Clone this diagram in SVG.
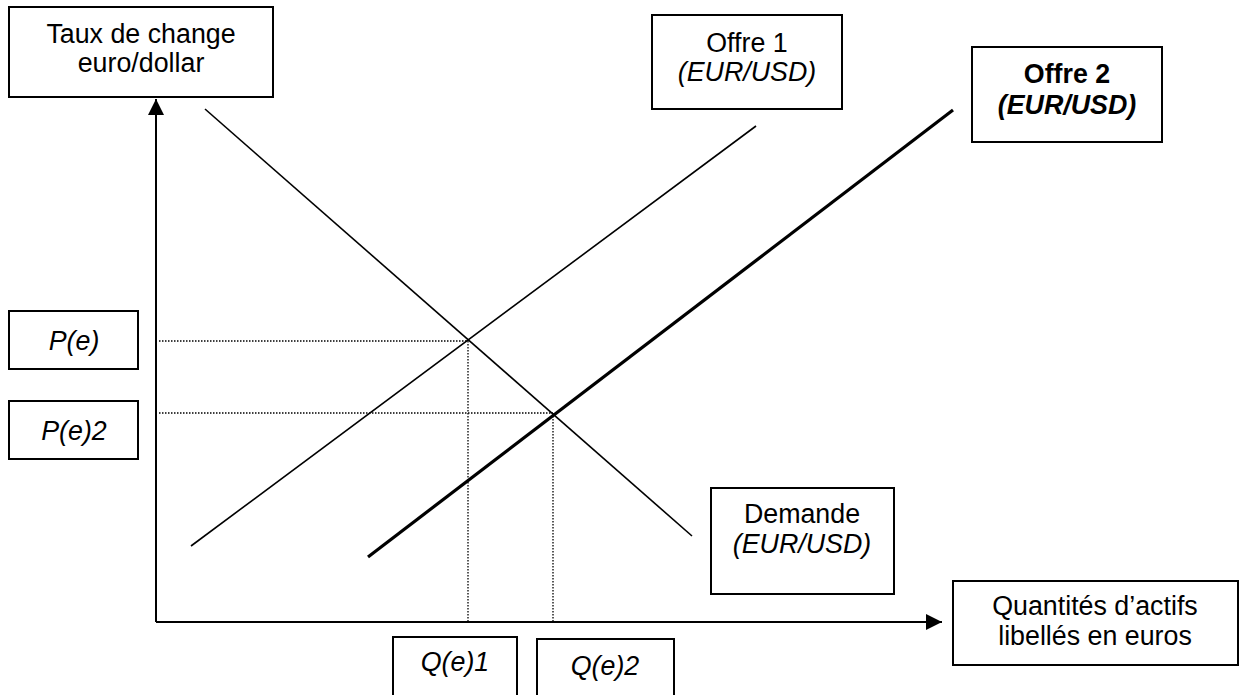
<svg xmlns="http://www.w3.org/2000/svg" width="1239" height="695" viewBox="0 0 1239 695">
<style>
.box{fill:#fff;stroke:#000;stroke-width:2}
text{font-family:"Liberation Sans",Arial,sans-serif;font-size:26.8px;fill:#000;text-anchor:middle}
.it{font-style:italic}
.b{font-weight:bold}
.ln{stroke:#000;stroke-width:1.6;fill:none}
.thick{stroke:#000;stroke-width:3.2;fill:none}
.dot{stroke:#000;stroke-width:1.3;stroke-dasharray:1.5 1.5;fill:none}
.axis{stroke:#000;stroke-width:2;fill:none}
</style>
<defs>
<marker id="ah" viewBox="0 0 16 16" refX="16" refY="8" markerWidth="16" markerHeight="16" markerUnits="userSpaceOnUse" orient="auto">
<path d="M0,0 L16,8 L0,16 Z" fill="#000"/>
</marker>
</defs>
<rect width="1239" height="695" fill="#fff"/>
<g id="connectors">
<line class="dot" x1="159" y1="341" x2="468" y2="341"/>
<line class="dot" x1="159" y1="413" x2="553" y2="413"/>
<line class="dot" x1="468" y1="341" x2="468" y2="622"/>
<line class="dot" x1="553" y1="413" x2="553" y2="622"/>
<line class="axis" x1="156" y1="622" x2="156" y2="99" marker-end="url(#ah)"/>
<line class="axis" x1="156" y1="622" x2="942" y2="622" marker-end="url(#ah)"/>
<line class="ln" x1="205" y1="109" x2="692" y2="536"/>
<line class="ln" x1="191" y1="546" x2="756" y2="126"/>
<line class="thick" x1="368" y1="557" x2="953" y2="110"/>
</g>
<g id="n-taux">
<rect class="box" x="9" y="7" width="264" height="90"/>
<text x="141" y="43">Taux de change</text>
<text x="141" y="72">euro/dollar</text>
</g>
<g id="n-offre1">
<rect class="box" x="652" y="15" width="190" height="94"/>
<text x="747" y="52">Offre 1</text>
<text class="it" x="747" y="81">(EUR/USD)</text>
</g>
<g id="n-offre2">
<rect class="box" x="972" y="47" width="190" height="95"/>
<text class="b" x="1067" y="83">Offre 2</text>
<text class="b it" x="1067" y="114">(EUR/USD)</text>
</g>
<g id="n-pe">
<rect class="box" x="9" y="311" width="129" height="58"/>
<text class="it" x="74" y="350">P(e)</text>
</g>
<g id="n-pe2">
<rect class="box" x="9" y="401" width="129" height="58"/>
<text class="it" x="74" y="440">P(e)2</text>
</g>
<g id="n-demande">
<rect class="box" x="711" y="488" width="183" height="106"/>
<text x="802" y="523">Demande</text>
<text class="it" x="802" y="553">(EUR/USD)</text>
</g>
<g id="n-quantites">
<rect class="box" x="953" y="581" width="285" height="84"/>
<text x="1095" y="615">Quantités d’actifs</text>
<text x="1095" y="645">libellés en euros</text>
</g>
<g id="n-qe1">
<rect class="box" x="393" y="637" width="124" height="70"/>
<text class="it" x="455" y="671">Q(e)1</text>
</g>
<g id="n-qe2">
<rect class="box" x="537" y="639" width="137" height="70"/>
<text class="it" x="605" y="675">Q(e)2</text>
</g>
</svg>
